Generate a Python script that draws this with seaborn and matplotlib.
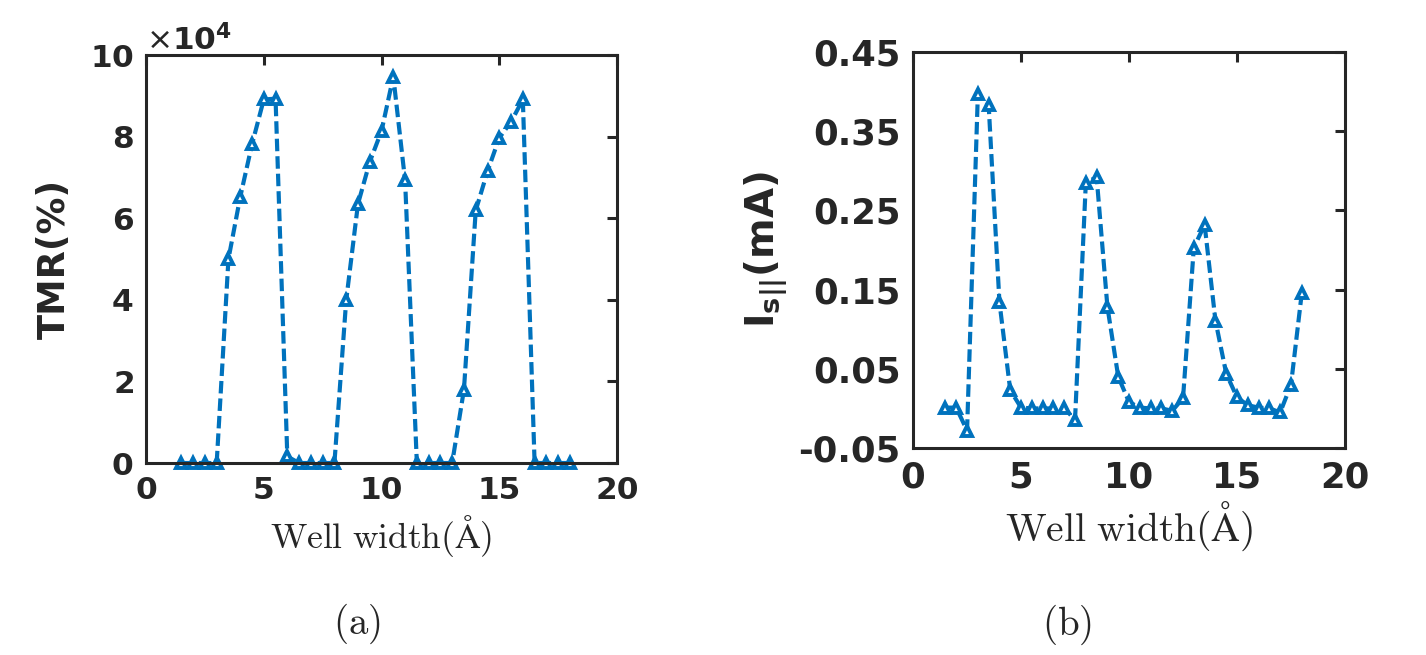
import numpy as np
import pandas as pd
import matplotlib
matplotlib.use('Agg')
import matplotlib.pyplot as plt
import seaborn as sns
from matplotlib.ticker import ScalarFormatter

# data
well_width = [1.5, 2.0, 2.5, 3.0, 3.5, 4.0, 4.5, 5.0, 5.5, 6.0, 6.5, 7.0,
              7.5, 8.0, 8.5, 9.0, 9.5, 10.0, 10.5, 11.0, 11.5, 12.0, 12.5,
              13.0, 13.5, 14.0, 14.5, 15.0, 15.5, 16.0, 16.5, 17.0, 17.5, 18.0]
tmr = [0, 0, 0, 0, 50000, 65200, 78100, 89100, 89300, 1600,
       0, 0, 0, 0, 39900, 63500, 73800, 81400, 94700, 69300,
       0, 0, 0, 0, 18000, 61900, 71500, 79700, 83600, 89100,
       0, 0, 0, 0]
i_s = [0.001, 0.001, -0.028, 0.397, 0.383, 0.134, 0.023, 0.001, 0.0, 0.0,
       0.0, 0.0, -0.014, 0.285, 0.292, 0.128, 0.040, 0.008, 0.001, 0.0,
       0.0, -0.003, 0.013, 0.203, 0.232, 0.111, 0.044, 0.014, 0.004, 0.001,
       0.0, -0.005, 0.030, 0.146]

df = pd.DataFrame({'w': well_width, 'tmr': tmr, 'is': i_s})

sns.set_style('white')
plt.rcParams['font.family'] = ['DejaVu Sans']
plt.rcParams['axes.unicode_minus'] = False
plt.rcParams['axes.edgecolor'] = '#262626'
plt.rcParams['axes.linewidth'] = 2.2

blue = '#0072BD'

fig = plt.figure(figsize=(14.26, 6.55), dpi=100)
ax1 = fig.add_axes([0.1024, 0.2931, 0.3303, 0.6229])
ax2 = fig.add_axes([0.6403, 0.3160, 0.3029, 0.6046])

sns.lineplot(data=df, x='w', y='tmr', ax=ax1, color=blue)
sns.lineplot(data=df, x='w', y='is', ax=ax2, color=blue)

# matlab-ish dashed line with triangle markers
for ax in (ax1, ax2):
    ln = ax.lines[0]
    ln.set_linewidth(3.0)
    ln.set_linestyle((0, (3.0, 1.2)))
    ln.set_marker('^')
    ln.set_markersize(6.5)
    ln.set_markerfacecolor('white')
    ln.set_markeredgecolor(blue)
    ln.set_markeredgewidth(2.8)
    ln.set_clip_on(False)

ax1.set_xlim(0, 20)
ax1.set_ylim(0, 100000)
ax1.set_xticks([0, 5, 10, 15, 20])
ax1.set_yticks(np.arange(0, 100001, 20000))
fmt = ScalarFormatter(useMathText=True)
fmt.set_powerlimits((4, 4))
ax1.yaxis.set_major_formatter(fmt)
off = ax1.yaxis.get_offset_text()
off.set_fontsize(22.5)
off.set_fontweight('bold')

ax2.set_xlim(0, 20)
ax2.set_ylim(-0.05, 0.45)
ax2.set_xticks([0, 5, 10, 15, 20])
ax2.set_yticks([-0.05, 0.05, 0.15, 0.25, 0.35, 0.45])
ax2.set_yticklabels(['-0.05', '0.05', '0.15', '0.25', '0.35', '0.45'])

for ax, fs in [(ax1, 22.5), (ax2, 25.5)]:
    ax.tick_params(direction='in', length=7, width=2.2, top=True, right=True,
                   labelsize=fs, pad=9, colors='#262626')
    for lab in ax.get_xticklabels() + ax.get_yticklabels():
        lab.set_fontweight('bold')
    for s in ax.spines.values():
        s.set_visible(True)

ax1.set_xlabel(r'$\mathrm{Well\ width(\AA)}$', fontsize=25.5,
               math_fontfamily='cm', labelpad=6, color='#262626')
ax1.set_ylabel('TMR(%)', fontsize=26.5, fontweight='bold', labelpad=12,
               color='#262626')
ax2.set_xlabel(r'$\mathrm{Well\ width(\AA)}$', fontsize=28.5,
               math_fontfamily='cm', labelpad=4, color='#262626')
ax2.set_ylabel(r'$\mathbf{I}_{\mathbf{s||}}\mathbf{(mA)}$', fontsize=28,
               math_fontfamily='dejavusans', labelpad=6, color='#262626')

fig.text(357 / 1426, 1 - 624 / 655, r'$\mathrm{(a)}$', fontsize=28,
         math_fontfamily='cm', ha='center', va='center', color='#262626')
fig.text(1067 / 1426, 1 - 625 / 655, r'$\mathrm{(b)}$', fontsize=28,
         math_fontfamily='cm', ha='center', va='center', color='#262626')

fig.savefig('out.png', dpi=100)
